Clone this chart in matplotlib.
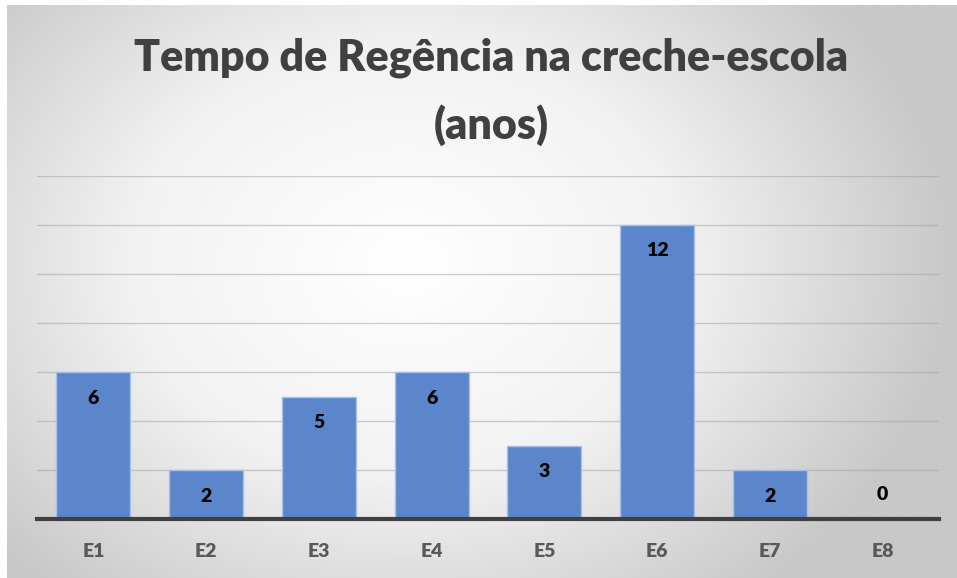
import numpy as np
import matplotlib
matplotlib.use("Agg")
import matplotlib.pyplot as plt
from matplotlib.colors import LinearSegmentedColormap

categories = ["E1", "E2", "E3", "E4", "E5", "E6", "E7", "E8"]
values = [6, 2, 5, 6, 3, 12, 2, 0]
title_lines = ["Tempo de Regência na creche-escola", "(anos)"]

W, H = 957, 578
fig = plt.figure(figsize=(W / 100, H / 100), dpi=100)
fig.patch.set_facecolor("white")

# radial gradient background
bg = fig.add_axes([7 / W, 0, 1 - 7 / W, 1 - 5 / H])
bg.set_axis_off()
yy, xx = np.mgrid[0:1:300j, 0:1:500j]
cx, cy = 0.42, 0.45
r = np.sqrt(((xx - cx) * 1.3) ** 2 + ((yy - cy) * 1.0) ** 2)
r = np.clip(r / 0.75, 0, 1)
cmap = LinearSegmentedColormap.from_list("g", ["#ffffff", "#f2f2f2", "#c8c8c8"])
bg.imshow(r, cmap=cmap, aspect="auto", extent=[0, 1, 0, 1], origin="upper",
          interpolation="bilinear")
bg.set_xlim(0, 1)
bg.set_ylim(0, 1)

ax = fig.add_axes([37 / W, 59 / H, (939 - 37) / W, (519 - 176) / H])
ax.patch.set_alpha(0)
x = np.arange(len(categories))
bars = ax.bar(x, values, width=0.655, color="#5B86CB", edgecolor="#A9C0E6",
              linewidth=1.0, zorder=3)
ax.set_xlim(-0.5, len(categories) - 0.5)
ax.set_ylim(0, 14)
ax.set_yticks(np.arange(2, 15, 2))
ax.yaxis.grid(True, color="#a0a0a0", alpha=0.5, linewidth=1.0, zorder=0)
ax.tick_params(axis="y", left=False, labelleft=False)
ax.tick_params(axis="x", bottom=False, pad=14)
ax.set_xticks(x)
ax.set_xticklabels(categories, fontfamily="Lato", fontweight="heavy",
                   fontsize=14, color="#595959")
for s in ["top", "right", "left"]:
    ax.spines[s].set_visible(False)
ax.spines["bottom"].set_color("#404040")
ax.spines["bottom"].set_linewidth(3)
ax.spines["bottom"].set_zorder(4)

for xi, v in zip(x, values):
    off = -26 if v > 0 else 24
    ax.annotate(str(v), (xi, v), xytext=(0, off), textcoords="offset pixels",
                ha="center", va="center", fontfamily="Lato", fontweight="heavy",
                fontsize=14, color="black", zorder=5)

for i, line in enumerate(title_lines):
    fig.text(491 / W, 1 - (58 + 67 * i) / H, line, ha="center", va="center",
             fontfamily="Lato", fontweight="heavy", fontsize=31, color="#404040")

fig.savefig("out.png", dpi=100)
